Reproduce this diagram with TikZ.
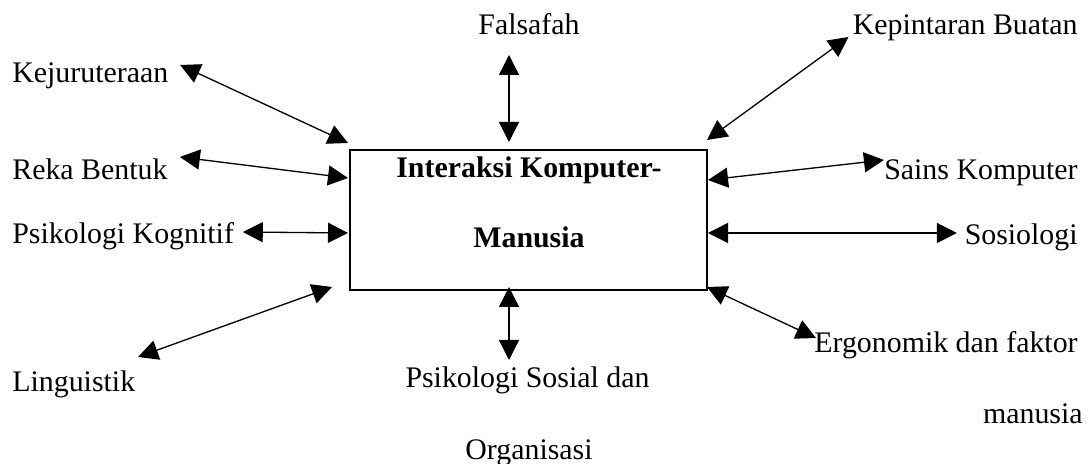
\documentclass[tikz,border=0pt]{standalone}
\usepackage{fontspec}
\setmainfont{Liberation Serif}
\usepackage{tikz}
\usetikzlibrary{arrows.meta, positioning, calc}

\begin{document}
\begin{tikzpicture}[
    every node/.style={font=\fontsize{17}{20}\selectfont, inner sep=0pt},
    field/.style={anchor=base west},
    fieldr/.style={anchor=base east},
    core/.style={draw, line width=0.75pt, minimum width=7.14cm,
                 minimum height=2.8cm, outer sep=0pt},
    coretext/.style={anchor=base, font=\fontsize{17}{20}\selectfont\bfseries},
    link/.style={{Triangle[length=4mm,width=4mm]}-{Triangle[length=4mm,width=4mm]},
                 line width=0.75pt}
]
\useasboundingbox (0,0) rectangle (21.84,9.28);

% central box
\node[core] (hci) at (10.57,4.88) {};
\node[coretext] (hci1) at (10.58,5.72) {Interaksi Komputer-};
\node[coretext] (hci2) at (10.58,4.32) {Manusia};

% fields
\node[field] (kej) at (0.24,7.62) {Kejuruteraan};
\node[field] (reka) at (0.24,5.68) {Reka Bentuk};
\node[field] (kog) at (0.24,4.40) {Psikologi Kognitif};
\node[field] (ling) at (0.24,1.44) {Linguistik};
\node[anchor=base] (fal) at (10.58,8.58) {Falsafah};
\node[anchor=base] (pss) at (10.55,1.52) {Psikologi Sosial dan};
\node[anchor=base] (org) at (10.58,0.08) {Organisasi};
\node[fieldr] (kep) at (21.56,8.58) {Kepintaran Buatan};
\node[fieldr] (sains) at (21.56,5.68) {Sains Komputer};
\node[fieldr] (sos) at (21.56,4.38) {Sosiologi};
\node[fieldr] (ergo) at (21.56,2.22) {Ergonomik dan faktor};
\node[fieldr] (manu) at (21.66,0.80) {manusia};

% links
\draw[link] ($(kej.base east)+(0.23,0.36)$) -- ($(hci.north west)+(-0.04,0.14)$);
\draw[link] ($(reka.base east)+(0.24,0.46)$) -- ($(hci.west)+(-0.04,0.84)$);
\draw[link] ($(kog.base east)+(0.17,0.24)$) -- ($(hci.west)+(-0.04,-0.26)$);
\draw[link] ($(ling.base east)+(0.05,0.7)$) -- ($(hci.south west)+(-0.36,0.06)$);
\draw[link] ($(fal.base)+(-0.4,-0.4)$) -- ($(hci.north)+(-0.39,0.16)$);
\draw[link] ($(pss.base)+(-0.37,0.56)$) -- ($(hci.south)+(-0.39,0.06)$);
\draw[link] ($(kep.base west)+(-0.08,-0.04)$) -- ($(hci.north east)+(0,0.2)$);
\draw[link] ($(sains.base west)+(0,0.4)$) -- ($(hci.east)+(0.02,0.8)$);
\draw[link] ($(sos.base west)+(-0.15,0.24)$) -- ($(hci.east)+(0.02,-0.26)$);
\draw[link] ($(ergo.base west)+(0.04,0.3)$) -- ($(hci.south east)+(0,0.06)$);
\end{tikzpicture}
\end{document}
